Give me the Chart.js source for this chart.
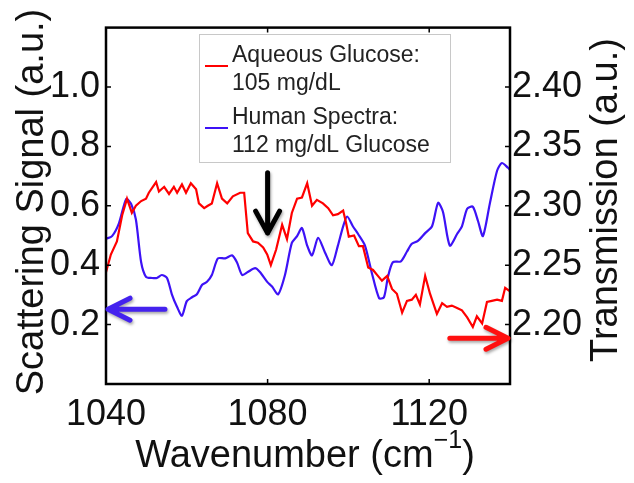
<!DOCTYPE html>
<html>
<head>
<meta charset="utf-8">
<script src="https://cdn.jsdelivr.net/npm/chart.js@4/dist/chart.umd.min.js"></script>
<style>
  html, body { margin: 0; padding: 0; background: #fff; }
  #wrap { width: 634px; height: 483px; }
</style>
</head>
<body>
<div id="wrap"><canvas id="specChart" width="634" height="483"></canvas></div>
<script>
// Aqueous glucose (red, right axis: Transmission)
const redWn = [1040.0, 1041.2, 1042.7, 1044.0, 1045.2, 1046.4, 1047.4, 1048.7, 1049.9, 1050.6,
  1052.4, 1053.1, 1054.4, 1055.6, 1056.8, 1057.6, 1058.8, 1059.8, 1061.0, 1062.3,
  1063.0, 1064.3, 1065.2, 1066.2, 1067.5, 1068.7, 1070.0, 1071.4, 1073.2, 1074.2,
  1075.1, 1076.4, 1077.6, 1078.9, 1079.9, 1080.8, 1082.1, 1083.6, 1084.8, 1086.0,
  1087.3, 1088.5, 1089.8, 1091.0, 1092.2, 1093.7, 1095.0, 1096.2, 1097.4, 1098.7,
  1099.4, 1100.1, 1101.4, 1102.6, 1103.6, 1104.9, 1106.1, 1107.3, 1108.3, 1109.6,
  1110.8, 1112.0, 1113.3, 1114.5, 1115.7, 1116.7, 1117.7, 1119.0, 1120.2, 1121.9,
  1123.2, 1124.4, 1125.6, 1126.9, 1128.1, 1129.4, 1130.8, 1131.8, 1133.1, 1134.3,
  1135.5, 1136.8, 1138.0, 1138.8, 1140.0];
const redVal = [2.244, 2.259, 2.270, 2.292, 2.306, 2.294, 2.300, 2.304, 2.306, 2.311,
  2.320, 2.312, 2.316, 2.310, 2.316, 2.311, 2.318, 2.311, 2.319, 2.314,
  2.302, 2.298, 2.300, 2.302, 2.319, 2.306, 2.302, 2.308, 2.311, 2.311,
  2.277, 2.270, 2.269, 2.265, 2.259, 2.250, 2.263, 2.284, 2.272, 2.294,
  2.306, 2.307, 2.319, 2.300, 2.305, 2.302, 2.298, 2.292, 2.293, 2.296,
  2.286, 2.274, 2.275, 2.266, 2.266, 2.248, 2.246, 2.241, 2.237, 2.241,
  2.230, 2.226, 2.210, 2.220, 2.221, 2.225, 2.217, 2.241, 2.226, 2.209,
  2.218, 2.215, 2.216, 2.214, 2.212, 2.206, 2.198, 2.207, 2.201, 2.219,
  2.220, 2.221, 2.220, 2.231, 2.228];

// Human spectra (blue, left axis: Scattering Signal)
const blueWn = [1040.0, 1041.5, 1043.2, 1045.0, 1046.2, 1047.4, 1048.7, 1049.9, 1051.4, 1052.6,
  1053.8, 1055.1, 1056.3, 1057.6, 1058.8, 1060.0, 1061.3, 1062.5, 1063.8, 1065.0,
  1066.2, 1067.7, 1069.5, 1071.2, 1072.4, 1073.7, 1075.1, 1076.9, 1078.1, 1079.9,
  1081.1, 1082.6, 1084.3, 1086.0, 1087.3, 1088.5, 1089.8, 1091.0, 1092.5, 1094.2,
  1095.9, 1097.4, 1098.7, 1099.7, 1101.1, 1102.4, 1104.1, 1105.8, 1107.6, 1108.8,
  1109.8, 1111.0, 1113.0, 1114.5, 1115.7, 1117.2, 1119.0, 1120.7, 1122.2, 1123.4,
  1125.1, 1126.9, 1128.1, 1129.4, 1130.8, 1132.1, 1133.3, 1135.0, 1136.8, 1138.0,
  1139.5, 1140.0];
const blueVal = [0.489, 0.498, 0.541, 0.623, 0.607, 0.554, 0.410, 0.361, 0.357, 0.357,
  0.367, 0.357, 0.302, 0.259, 0.230, 0.279, 0.292, 0.302, 0.334, 0.344,
  0.367, 0.423, 0.423, 0.433, 0.410, 0.367, 0.377, 0.390, 0.377, 0.344,
  0.328, 0.302, 0.367, 0.475, 0.498, 0.525, 0.466, 0.433, 0.492, 0.443,
  0.400, 0.466, 0.531, 0.564, 0.531, 0.505, 0.466, 0.374, 0.289, 0.292,
  0.361, 0.410, 0.413, 0.446, 0.472, 0.482, 0.508, 0.531, 0.610, 0.580,
  0.466, 0.505, 0.531, 0.590, 0.597, 0.548, 0.498, 0.607, 0.718, 0.744,
  0.728, 0.721];

const xTicks = [1040, 1080, 1120];
const leftTicks = [0.2, 0.4, 0.6, 0.8, 1.0];
const rightTicks = [2.20, 2.25, 2.30, 2.35, 2.40];

const legendRed = ['Aqueous Glucose:', '105 mg/dL'];
const legendBlue = ['Human Spectra:', '112 mg/dL Glucose'];

// arrows: [x0, y0, x1, y1, axis]  (tail -> tip, in data units)
const arrowBlack = [1080, 0.711, 1080, 0.508, 'y'];
const arrowBlue = [1054.6, 0.252, 1040.5, 0.252, 'y'];
const arrowRed = [1125.1, 2.1885, 1139.5, 2.1885, 'y1'];

const FONT = "'Liberation Sans', Arial, Helvetica, sans-serif";
const RED = '#ff0000';
const BLUE = '#3d12f6';

function drawArrow(ctx, chart, a, color, headLen, headW) {
  const xs = chart.scales.x, ys = chart.scales[a[4]];
  const x0 = xs.getPixelForValue(a[0]), y0 = ys.getPixelForValue(a[1]);
  const x1 = xs.getPixelForValue(a[2]), y1 = ys.getPixelForValue(a[3]);
  const ang = Math.atan2(y1 - y0, x1 - x0);
  ctx.save();
  ctx.strokeStyle = color;
  ctx.lineWidth = 5;
  ctx.lineCap = 'round';
  ctx.lineJoin = 'round';
  ctx.shadowColor = 'rgba(0,0,0,0.35)';
  ctx.shadowBlur = 3;
  ctx.shadowOffsetX = 1;
  ctx.shadowOffsetY = 2;
  ctx.beginPath();
  ctx.moveTo(x0, y0);
  ctx.lineTo(x1, y1);
  ctx.moveTo(x1 - headLen * Math.cos(ang) + headW * Math.sin(ang), y1 - headLen * Math.sin(ang) - headW * Math.cos(ang));
  ctx.lineTo(x1, y1);
  ctx.lineTo(x1 - headLen * Math.cos(ang) - headW * Math.sin(ang), y1 - headLen * Math.sin(ang) + headW * Math.cos(ang));
  ctx.stroke();
  ctx.restore();
}

const decor = {
  id: 'decor',
  afterDatasetsDraw(chart) {
    const ctx = chart.ctx;
    const ca = chart.chartArea;
    const xs = chart.scales.x, yl = chart.scales.y, yr = chart.scales.y1;

    // axes box
    ctx.save();
    ctx.strokeStyle = '#000';
    ctx.lineWidth = 2.5;
    ctx.strokeRect(ca.left, ca.top, ca.right - ca.left, ca.bottom - ca.top);

    // inward ticks
    ctx.lineWidth = 1.5;
    ctx.beginPath();
    leftTicks.forEach(v => {
      const y = yl.getPixelForValue(v);
      ctx.moveTo(ca.left, y); ctx.lineTo(ca.left + 5, y);
    });
    rightTicks.forEach(v => {
      const y = yr.getPixelForValue(v);
      ctx.moveTo(ca.right, y); ctx.lineTo(ca.right - 5, y);
    });
    xTicks.forEach(v => {
      const x = xs.getPixelForValue(v);
      ctx.moveTo(x, ca.bottom); ctx.lineTo(x, ca.bottom - 5);
      ctx.moveTo(x, ca.top); ctx.lineTo(x, ca.top + 5);
    });
    ctx.stroke();
    ctx.restore();

    // legend
    ctx.save();
    ctx.fillStyle = '#fff';
    ctx.fillRect(199, 34, 251, 128);
    ctx.strokeStyle = '#c8c8c8';
    ctx.lineWidth = 1;
    ctx.strokeRect(199.5, 34.5, 251, 128);
    ctx.lineWidth = 2;
    ctx.strokeStyle = RED;
    ctx.beginPath(); ctx.moveTo(205, 66); ctx.lineTo(228, 66); ctx.stroke();
    ctx.strokeStyle = BLUE;
    ctx.beginPath(); ctx.moveTo(205, 128); ctx.lineTo(228, 128); ctx.stroke();
    ctx.fillStyle = '#222';
    ctx.font = '23px ' + FONT;
    ctx.textAlign = 'left';
    ctx.textBaseline = 'alphabetic';
    ctx.fillText(legendRed[0], 232, 62);
    ctx.fillText(legendRed[1], 232, 90);
    ctx.fillText(legendBlue[0], 232, 124);
    ctx.fillText(legendBlue[1], 232, 152);
    ctx.restore();

    // arrows
    drawArrow(ctx, chart, arrowBlack, '#000', 22, 12);
    drawArrow(ctx, chart, arrowBlue, '#4422ee', 22, 11);
    drawArrow(ctx, chart, arrowRed, '#ff1010', 22, 11);

    // axis titles
    ctx.save();
    ctx.fillStyle = '#111';
    ctx.font = '38px ' + FONT;
    ctx.textBaseline = 'alphabetic';
    ctx.textAlign = 'center';
    ctx.save();
    ctx.translate(43, 202);
    ctx.rotate(-Math.PI / 2);
    ctx.fillText('Scattering Signal (a.u.)', 0, 0);
    ctx.restore();
    ctx.save();
    ctx.translate(617, 200);
    ctx.rotate(-Math.PI / 2);
    ctx.fillText('Transmission (a.u.)', 0, 0);
    ctx.restore();

    // x title with superscript
    const main = 'Wavenumber (cm', sup = '\u22121', close = ')';
    ctx.textAlign = 'left';
    ctx.font = '38px ' + FONT;
    const wMain = ctx.measureText(main).width;
    const wClose = ctx.measureText(close).width;
    ctx.font = '25px ' + FONT;
    const wSup = ctx.measureText(sup).width;
    const total = wMain + wSup + wClose;
    let x = 305 - total / 2;
    const base = 467;
    ctx.font = '38px ' + FONT;
    ctx.fillText(main, x, base);
    x += wMain;
    ctx.font = '25px ' + FONT;
    ctx.fillText(sup, x, base - 19);
    x += wSup;
    ctx.font = '38px ' + FONT;
    ctx.fillText(close, x, base);
    ctx.restore();
  }
};

new Chart(document.getElementById('specChart'), {
  type: 'line',
  data: {
    datasets: [
      {
        label: legendRed.join(' '),
        data: redWn.map((w, i) => ({ x: w, y: redVal[i] })),
        yAxisID: 'y1',
        borderColor: RED,
        borderWidth: 2.2,
        pointRadius: 0,
        tension: 0,
        fill: false
      },
      {
        label: legendBlue.join(' '),
        data: blueWn.map((w, i) => ({ x: w, y: blueVal[i] })),
        yAxisID: 'y',
        borderColor: BLUE,
        borderWidth: 2.2,
        pointRadius: 0,
        tension: 0.25,
        fill: false
      }
    ]
  },
  options: {
    responsive: false,
    animation: false,
    layout: { padding: { top: 16, left: 0, right: 0, bottom: 0 } },
    plugins: { legend: { display: false }, tooltip: { enabled: false } },
    scales: {
      x: {
        type: 'linear',
        min: 1040,
        max: 1140,
        afterBuildTicks: axis => { axis.ticks = xTicks.map(v => ({ value: v })); },
        afterFit: axis => { axis.height = 99; },
        grid: { display: false, drawTicks: false },
        border: { display: false },
        ticks: { color: '#111', padding: 9, maxRotation: 0, font: { size: 36, family: FONT }, callback: v => String(v) }
      },
      y: {
        position: 'left',
        min: 0,
        max: 1.2,
        afterBuildTicks: axis => { axis.ticks = leftTicks.map(v => ({ value: v })); },
        afterFit: axis => { axis.width = 106; },
        grid: { display: false, drawTicks: false },
        border: { display: false },
        ticks: { color: '#111', padding: 6, font: { size: 36, family: FONT }, callback: v => v.toFixed(1) }
      },
      y1: {
        position: 'right',
        min: 2.15,
        max: 2.45,
        afterBuildTicks: axis => { axis.ticks = rightTicks.map(v => ({ value: v })); },
        afterFit: axis => { axis.width = 124; },
        grid: { display: false, drawTicks: false },
        border: { display: false },
        ticks: { color: '#111', padding: 2, font: { size: 36, family: FONT }, callback: v => v.toFixed(2) }
      }
    }
  },
  plugins: [decor]
});
</script>
</body>
</html>
